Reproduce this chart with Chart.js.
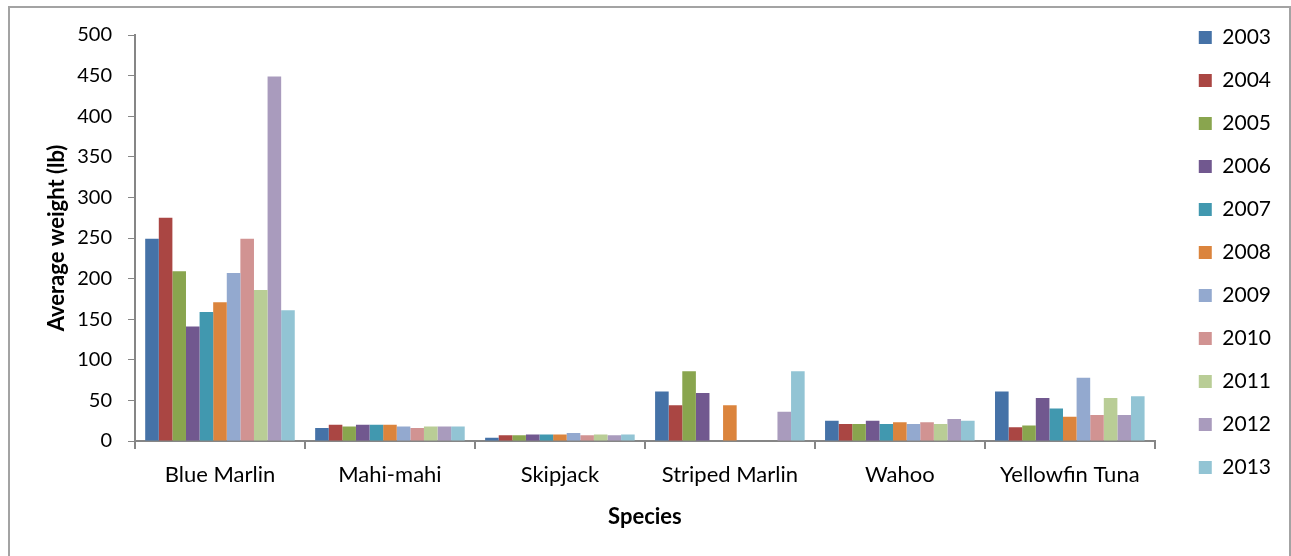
<!DOCTYPE html>
<html>
<head>
<meta charset="utf-8">
<script src="https://cdn.jsdelivr.net/npm/chart.js@4/dist/chart.umd.min.js"></script>
<style>
  body { margin: 0; background: #fff; overflow: hidden; }
  #frame { position: absolute; left: 8px; top: 6px; width: 1279px; height: 600px; border: 2px solid #a3a3a3; }
  #myChart { position: absolute; left: 0; top: 0; }
</style>
</head>
<body>
<div id="frame"></div>
<canvas id="myChart" width="1291" height="556"></canvas>
<script>
const species = ["Blue Marlin", "Mahi-mahi", "Skipjack", "Striped Marlin", "Wahoo", "Yellowfin Tuna"];
const years = ["2003", "2004", "2005", "2006", "2007", "2008", "2009", "2010", "2011", "2012", "2013"];

// average weight (lb) per species, one array per year
const w2003 = [249, 16, 4, 61, 25, 61];
const w2004 = [275, 20, 7, 44, 21, 17];
const w2005 = [209, 18, 7, 86, 21, 19];
const w2006 = [141, 20, 8, 59, 25, 53];
const w2007 = [159, 20, 8, null, 21, 40];
const w2008 = [171, 20, 8, 44, 23, 30];
const w2009 = [207, 18, 10, null, 21, 78];
const w2010 = [249, 16, 7, null, 23, 32];
const w2011 = [186, 18, 8, null, 21, 53];
const w2012 = [449, 18, 7, 36, 27, 32];
const w2013 = [161, 18, 8, 86, 25, 55];

const yTicks = [0, 50, 100, 150, 200, 250, 300, 350, 400, 450, 500];

const colors = ["#4572a7", "#aa4643", "#89a54e", "#71588f", "#4198af", "#db843d",
  "#93a9cf", "#d19392", "#b9cd96", "#a99bbd", "#92c4d4"];

const allData = [w2003, w2004, w2005, w2006, w2007, w2008, w2009, w2010, w2011, w2012, w2013];

const axisGray = "#868686";
const fontFamily = "Lato, 'Liberation Sans', sans-serif";

const data = {
  labels: species,
  datasets: years.map(function (y, i) {
    return {
      label: y,
      data: allData[i],
      backgroundColor: colors[i],
      borderWidth: 0,
      barPercentage: 1,
      categoryPercentage: 0.88,
    };
  }),
};

const config = {
  type: "bar",
  data,
  options: {
    responsive: false,
    animation: false,
    layout: {
      padding: { left: 30, right: 10, top: 5, bottom: 26 },
    },
    scales: {
      x: {
        grid: {
          display: true,
          offset: true,
          drawOnChartArea: false,
          drawTicks: true,
          tickLength: 8,
          color: axisGray,
          lineWidth: 2,
        },
        border: { color: axisGray, width: 2 },
        ticks: {
          color: "#000",
          padding: 13,
          font: { family: fontFamily, size: 22 },
        },
        title: {
          display: true,
          text: "Species",
          color: "#000",
          padding: { top: 0, bottom: 0 },
          font: { family: fontFamily, size: 22, weight: "bold" },
        },
        afterFit: function (s) {
          s.height = 89;
        },
      },
      y: {
        min: 0,
        max: 500,
        afterBuildTicks: function (s) {
          s.ticks = yTicks.map(function (v) { return { value: v }; });
        },
        grid: {
          display: true,
          drawOnChartArea: false,
          drawTicks: true,
          tickLength: 7,
          color: axisGray,
          lineWidth: 1,
        },
        border: { color: axisGray, width: 2 },
        ticks: {
          color: "#000",
          padding: 16,
          font: { family: fontFamily, size: 20 },
        },
        title: {
          display: true,
          text: "Average weight (lb)",
          color: "#000",
          padding: { top: 14, bottom: 0 },
          font: { family: fontFamily, size: 22, weight: "bold" },
        },
        afterFit: function (s) {
          s.width = 105;
        },
      },
      // spacer between plot and legend
      gap: {
        type: "linear",
        position: "right",
        display: true,
        grid: { display: false },
        border: { display: false },
        ticks: { display: false },
        afterFit: function (s) {
          s.width = 22;
        },
      },
    },
    plugins: {
      title: {
        display: true,
        text: "",
        padding: { top: 9, bottom: 9 },
        font: { size: 10 },
      },
      legend: {
        position: "right",
        align: "start",
        labels: {
          boxWidth: 13,
          boxHeight: 13,
          padding: 22,
          color: "#000",
          font: { family: fontFamily, size: 21 },
        },
      },
      tooltip: { enabled: false },
    },
  },
};

const myChart = new Chart(document.getElementById("myChart"), config);
</script>
</body>
</html>
